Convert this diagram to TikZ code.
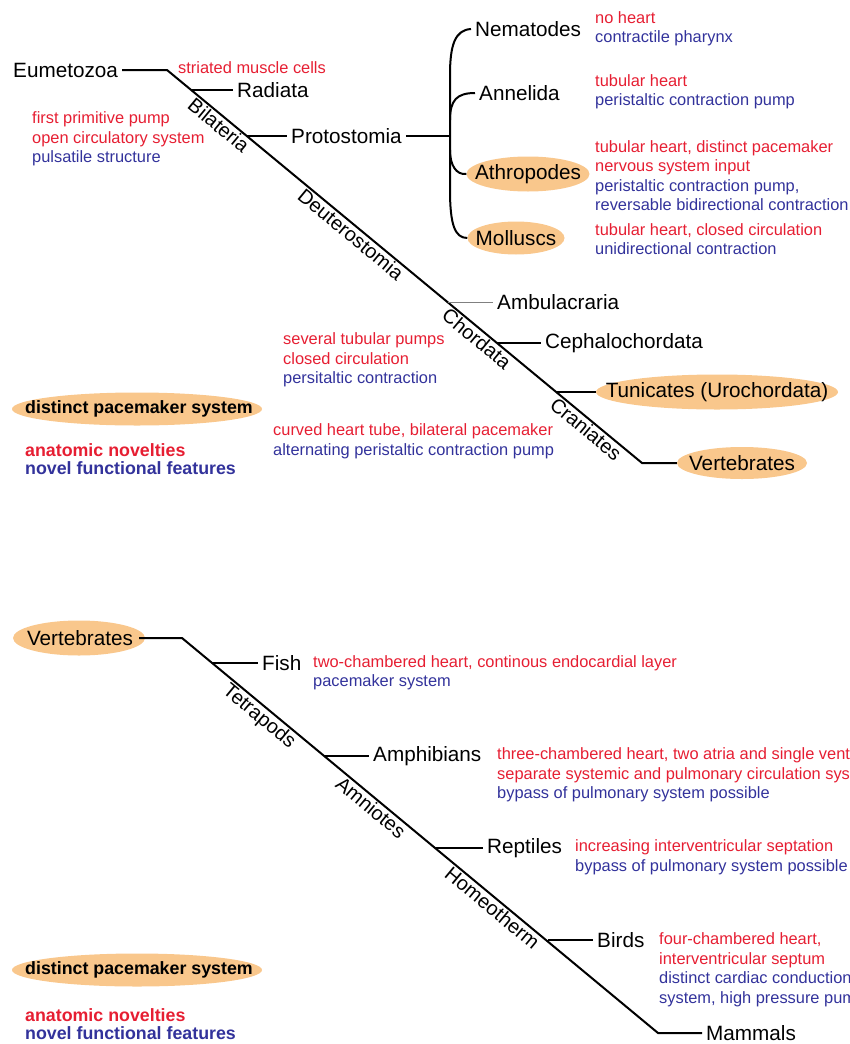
\documentclass[tikz,border=0pt]{standalone}
\usepackage{fontspec}
\setmainfont{Liberation Sans}
\usepackage{xcolor}
\usetikzlibrary{shapes.geometric}
\definecolor{novred}{RGB}{230,30,50}
\definecolor{novblue}{RGB}{50,50,155}
\definecolor{pacefill}{RGB}{249,199,140}

\begin{document}
\begin{tikzpicture}[x=1pt,y=-1pt,
    taxon/.style={anchor=west, inner xsep=4pt, inner ysep=0pt, font=\fontsize{20.7}{24}\selectfont},
    inside/.style={inner sep=0pt, font=\fontsize{20.7}{24}\selectfont},
    clade/.style={sloped, below, inner sep=2pt, font=\fontsize{20}{24}\selectfont},
    note/.style={anchor=west, align=left, inner sep=0pt, font=\fontsize{16.4}{19.5}\selectfont},
    pace/.style={shape=ellipse, fill=pacefill, inner sep=0pt},
    keytext/.style={inner sep=0pt, font=\bfseries\fontsize{17.8}{18.5}\selectfont},
    branch/.style={line width=2pt}]
    \useasboundingbox (0,0) rectangle (850,1044);
    \clip (0,0) rectangle (850,1044);

    % upper tree
    \node[taxon] (eum) at (9,70) {Eumetozoa};
    \node[taxon] (rad) at (233,90) {Radiata};
    \node[taxon] (pro) at (287,136) {Protostomia};
    \node[taxon] (nem) at (471,29) {Nematodes};
    \node[taxon] (ann) at (475,93) {Annelida};
    \node[pace,minimum width=123,minimum height=35] (ath) at (528,174) {};
    \node[inside] (athtxt) at (ath) {Athropodes};
    \node[pace,minimum width=97,minimum height=33] (mol) at (516,238) {};
    \node[inside] (moltxt) at (mol) {Molluscs};
    \node[taxon] (amb) at (493,302) {Ambulacraria};
    \node[taxon] (cep) at (541,343) {Cephalochordata};
    \node[pace,minimum width=242,minimum height=35] (tun) at (717,392) {};
    \node[inside] (tuntxt) at (tun) {Tunicates (Urochordata)};
    \node[pace,minimum width=130,minimum height=32] (ver) at (742,463) {};
    \node[inside] (vertxt) at (ver) {Vertebrates};

    \coordinate (t0) at (167,70);
    \coordinate (t1) at (642,463);
    \coordinate (radb) at (191,90);
    \coordinate (prob) at (247,136);
    \coordinate (ambb) at (447.5,302);
    \coordinate (cepb) at (497,343);
    \coordinate (tunb) at (556,392);
    \coordinate (brk) at (450,136);

    \draw[branch] (eum.east) -- (t0) -- (t1) -- (ver.west);
    \path (t0) -- node[clade,pos=0.122] (bil) {Bilateria}
                  node[clade,pos=0.40] (deu) {Deuterostomia}
                  node[clade,pos=0.665] (cho) {Chordata}
                  node[clade,pos=0.895] (cra) {Craniates} (t1);
    \draw[branch] (radb) -- (rad.west);
    \draw[branch] (prob) -- (pro.west);
    \draw[branch] (pro.east) -- (brk);
    \draw[branch] (nem.west) .. controls (455,30) and (450,45) .. (450,75) -- (450,190) .. controls (450,225) and (455,238) .. (mol.west);
    \draw[branch] (ann.west) .. controls (457,93) and (450,100) .. (450,120);
    \draw[branch] (450,150) .. controls (450,165) and (456,175) .. (ath.west);
    \draw[gray,line width=0.8pt] (ambb) -- (amb.west);
    \draw[branch] (cepb) -- (cep.west);
    \draw[branch] (tunb) -- (tun.west);

    \node[note,text=novred] (strnote) at (178,68) {striated muscle cells};
    \node[note] (bilnote) at (32,139) {\textcolor{novred}{first primitive pump}\\\textcolor{novred}{open circulatory system}\\\textcolor{novblue}{pulsatile structure}};
    \node[note] (nemnote) at (595,29) {\textcolor{novred}{no heart}\\\textcolor{novblue}{contractile pharynx}};
    \node[note] (annnote) at (595,92) {\textcolor{novred}{tubular heart}\\\textcolor{novblue}{peristaltic contraction pump}};
    \node[note] (athnote) at (595,175.5) {\textcolor{novred}{tubular heart, distinct pacemaker}\\\textcolor{novred}{nervous system input}\\\textcolor{novblue}{peristaltic contraction pump,}\\\textcolor{novblue}{reversable bidirectional contraction}};
    \node[note] (molnote) at (595,239) {\textcolor{novred}{tubular heart, closed circulation}\\\textcolor{novblue}{unidirectional contraction}};
    \node[note] (chonote) at (283,360) {\textcolor{novred}{several tubular pumps}\\\textcolor{novred}{closed circulation}\\\textcolor{novblue}{persitaltic contraction}};
    \node[note] (cranote) at (273,441.5) {\textcolor{novred}{curved heart tube, bilateral pacemaker}\\\textcolor{novblue}{alternating peristaltic contraction pump}};

    \node[pace,minimum width=250,minimum height=33] (key) at (137,409) {};
    \node[keytext] (keytxt) at (139,409) {distinct pacemaker system};
    \node[note,keytext] (keynote) at (25,459) {\textcolor{novred}{anatomic novelties}\\\textcolor{novblue}{novel functional features}};

    % lower tree
    \node[pace,minimum width=132,minimum height=35] (vb) at (79,638) {};
    \node[inside] (vbtxt) at (80,638) {Vertebrates};
    \node[taxon] (fis) at (258,663) {Fish};
    \node[taxon] (amp) at (369,756) {Amphibians};
    \node[taxon] (rep) at (483,848) {Reptiles};
    \node[taxon] (bir) at (593,940) {Birds};
    \node[taxon] (mam) at (702,1033) {Mammals};

    \coordinate (b0) at (182,638);
    \coordinate (b1) at (658,1033);
    \coordinate (fisb) at (212,663);
    \coordinate (ampb) at (324,756);
    \coordinate (repb) at (435,848);
    \coordinate (birb) at (548,940);

    \draw[branch] ([xshift=-6pt]vb.east) -- (b0) -- (b1) -- (mam.west);
    \path (b0) -- node[clade,pos=0.177] (tet) {Tetrapods}
                  node[clade,pos=0.41] (amn) {Amniotes}
                  node[clade,pos=0.665] (hom) {Homeotherm} (b1);
    \draw[branch] (fisb) -- (fis.west);
    \draw[branch] (ampb) -- (amp.west);
    \draw[branch] (repb) -- (rep.west);
    \draw[branch] (birb) -- (bir.west);

    \node[note] (fisnote) at (313,673) {\textcolor{novred}{two-chambered heart, continous endocardial layer}\\\textcolor{novblue}{pacemaker system}};
    \node[note] (ampnote) at (497,775) {\textcolor{novred}{three-chambered heart, two atria and single ventricle}\\\textcolor{novred}{separate systemic and pulmonary circulation system}\\\textcolor{novblue}{bypass of pulmonary system possible}};
    \node[note] (repnote) at (575,857) {\textcolor{novred}{increasing interventricular septation}\\\textcolor{novblue}{bypass of pulmonary system possible}};
    \node[note] (birnote) at (659,969.5) {\textcolor{novred}{four-chambered heart,}\\\textcolor{novred}{interventricular septum}\\\textcolor{novblue}{distinct cardiac conduction}\\\textcolor{novblue}{system, high pressure pump}};

    \node[pace,minimum width=250,minimum height=33] (key2) at (137,970) {};
    \node[keytext] (keytxt2) at (139,970) {distinct pacemaker system};
    \node[note,keytext] (keynote2) at (25,1024) {\textcolor{novred}{anatomic novelties}\\\textcolor{novblue}{novel functional features}};
\end{tikzpicture}
\end{document}
